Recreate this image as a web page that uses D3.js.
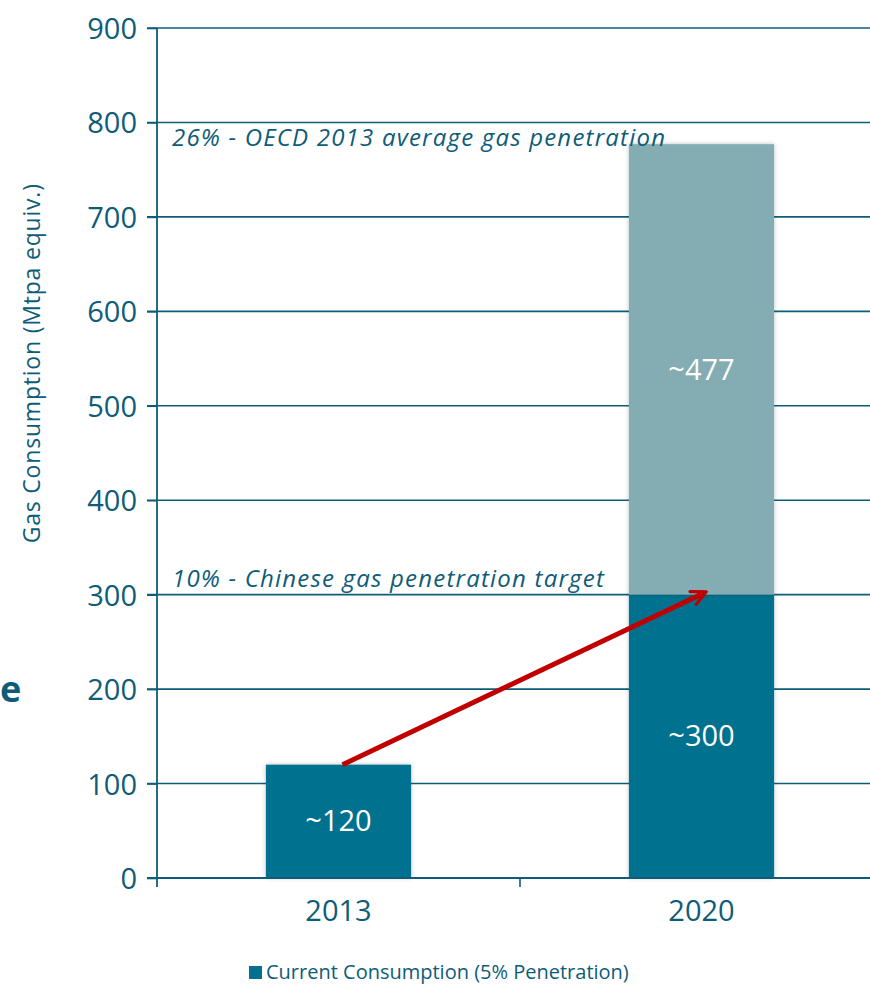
<!DOCTYPE html>
<html>
<head>
<meta charset="utf-8">
<script src="https://cdn.jsdelivr.net/npm/d3@7"></script>
<style>
  body { margin: 0; background: #fff; }
  svg { display: block; font-family: "Open Sans", sans-serif; }
</style>
</head>
<body>
<script>
// chart data
var years = ["2013", "2020"];
var current = [120, 300];      // current consumption (dark)
var extra = [0, 477];          // up to OECD average (light)
var labels = [["~120"], ["~300", "~477"]];
var yTicks = [0, 100, 200, 300, 400, 500, 600, 700, 800, 900];
var notes = [
  {value: 800, text: "26% - OECD 2013 average gas penetration"},
  {value: 300, text: "10% - Chinese gas penetration target"}
];
var legendText = "Current Consumption (5% Penetration)";

var W = 870, H = 987;
var margin = {top: 28, left: 157, bottom: 109};
var teal = "#0e5c78", dark = "#00728f", light = "#84adb3", red = "#c00000";

var x = d3.scaleBand()
  .domain(years)
  .range([margin.left, 883])
  .paddingInner(0.6)
  .paddingOuter(0.3);

var y = d3.scaleLinear()
  .domain([0, 900])
  .range([H - margin.bottom, margin.top]);

var svg = d3.select("body").append("svg")
  .attr("width", W)
  .attr("height", H);

var defs = svg.append("defs");
var shadow = defs.append("filter").attr("id", "shadow")
  .attr("x", "-10%").attr("y", "-10%").attr("width", "120%").attr("height", "120%");
shadow.append("feDropShadow")
  .attr("dx", 0).attr("dy", 0).attr("stdDeviation", 2)
  .attr("flood-color", "#000").attr("flood-opacity", 0.25);

var marker = defs.append("marker")
  .attr("id", "head")
  .attr("viewBox", "0 0 10 10")
  .attr("refX", 8).attr("refY", 5)
  .attr("markerWidth", 3.6).attr("markerHeight", 3.6)
  .attr("orient", "auto");
marker.append("path")
  .attr("d", "M1,1 L9,5 L1,9")
  .attr("fill", "none")
  .attr("stroke", red)
  .attr("stroke-width", 1.8)
  .attr("stroke-linecap", "round");

// gridlines
svg.append("g")
  .selectAll("line")
  .data(yTicks)
  .enter().append("line")
    .attr("x1", margin.left - 10)
    .attr("x2", W)
    .attr("y1", function(d) { return y(d); })
    .attr("y2", function(d) { return y(d); })
    .attr("stroke", teal)
    .attr("stroke-width", 1.6);

// y axis
var yAxis = d3.axisLeft(y).tickValues(yTicks).tickSize(10).tickPadding(10);
var gy = svg.append("g")
  .attr("transform", "translate(" + margin.left + ",0)")
  .call(yAxis)
  .attr("font-family", null)
  .attr("font-size", null);
gy.select(".domain").remove();
gy.selectAll(".tick line").attr("stroke", teal).attr("stroke-width", 1.6);
gy.selectAll(".tick text")
  .attr("fill", teal)
  .style("font-size", "29px")
  .attr("dy", "0.36em");
svg.append("line")
  .attr("x1", margin.left).attr("x2", margin.left)
  .attr("y1", y(900)).attr("y2", y(0) + 9)
  .attr("stroke", teal).attr("stroke-width", 1.8);

// bars
var g = svg.append("g");
years.forEach(function(yr, i) {
  g.append("rect")
    .attr("x", x(yr))
    .attr("width", x.bandwidth())
    .attr("y", y(current[i]))
    .attr("height", y(0) - y(current[i]))
    .attr("fill", dark)
    .attr("filter", "url(#shadow)");
  if (extra[i] > 0) {
    g.append("rect")
      .attr("x", x(yr))
      .attr("width", x.bandwidth())
      .attr("y", y(current[i] + extra[i]))
      .attr("height", y(current[i]) - y(current[i] + extra[i]))
      .attr("fill", light)
      .attr("filter", "url(#shadow)");
  }
});

// bar labels
years.forEach(function(yr, i) {
  var cx = x(yr) + x.bandwidth() / 2;
  g.append("text")
    .attr("x", cx)
    .attr("y", y(current[i] / 2))
    .attr("dy", "0.35em")
    .attr("text-anchor", "middle")
    .attr("fill", "#fff")
    .style("font-size", "29px")
    .text(labels[i][0]);
  if (extra[i] > 0) {
    g.append("text")
      .attr("x", cx)
      .attr("y", y(current[i] + extra[i] / 2))
      .attr("dy", "0.35em")
      .attr("text-anchor", "middle")
      .attr("fill", "#fff")
      .style("font-size", "29px")
      .text(labels[i][1]);
  }
});

// x axis
var xAxis = d3.axisBottom(x).tickSize(0).tickPadding(22);
var gx = svg.append("g")
  .attr("transform", "translate(0," + y(0) + ")")
  .call(xAxis)
  .attr("font-family", null)
  .attr("font-size", null);
gx.select(".domain").remove();
gx.selectAll(".tick text").attr("fill", teal).style("font-size", "29px");
svg.append("line")
  .attr("x1", margin.left - 10).attr("x2", W)
  .attr("y1", y(0)).attr("y2", y(0))
  .attr("stroke", teal).attr("stroke-width", 1.8);
svg.append("line")
  .attr("x1", (x("2013") + x.bandwidth() + x("2020")) / 2)
  .attr("x2", (x("2013") + x.bandwidth() + x("2020")) / 2)
  .attr("y1", y(0)).attr("y2", y(0) + 9)
  .attr("stroke", teal).attr("stroke-width", 1.6);

// annotations
svg.append("g")
  .selectAll("text")
  .data(notes)
  .enter().append("text")
    .attr("x", margin.left + 15)
    .attr("y", function(d) { return y(d.value) + (d.value === 800 ? 24 : -8); })
    .attr("fill", teal)
    .style("font-style", "italic")
    .style("font-size", "24px")
    .style("letter-spacing", "1.2px")
    .text(function(d) { return d.text; });

// arrow
svg.append("line")
  .attr("x1", x("2013") + x.bandwidth() / 2 + 4)
  .attr("y1", y(current[0]))
  .attr("x2", x("2020") + x.bandwidth() / 2 + 3)
  .attr("y2", y(current[1]) - 2)
  .attr("stroke", red)
  .attr("stroke-width", 5)
  .attr("marker-end", "url(#head)");

// y axis title
svg.append("text")
  .attr("transform", "translate(40," + y(545) + ")rotate(-90)")
  .attr("text-anchor", "middle")
  .attr("fill", teal)
  .style("font-size", "23px")
  .style("letter-spacing", "0.8px")
  .text("Gas Consumption (Mtpa equiv.)");

// stray slide text at the left edge
svg.append("text")
  .attr("x", 0)
  .attr("y", 702)
  .attr("fill", teal)
  .style("font-size", "36px")
  .style("font-weight", "bold")
  .text("e");

// legend
var legend = svg.append("g").attr("transform", "translate(249,966)");
legend.append("rect")
  .attr("width", 13).attr("height", 13)
  .attr("fill", dark);
legend.append("text")
  .attr("x", 17).attr("y", 13)
  .attr("fill", teal)
  .style("font-size", "20px")
  .text(legendText);
</script>
</body>
</html>
